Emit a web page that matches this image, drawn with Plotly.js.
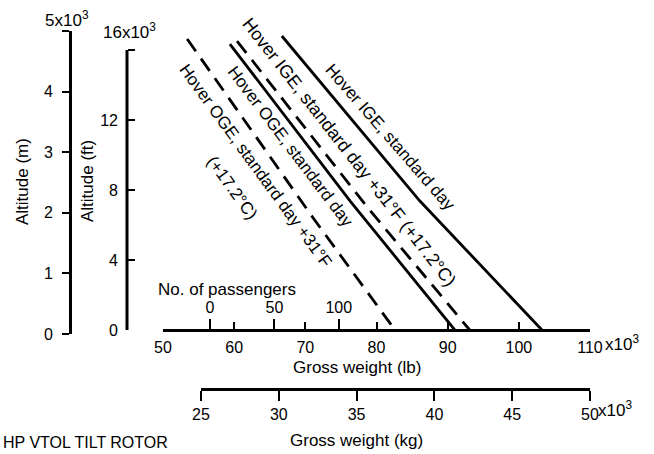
<!DOCTYPE html>
<html>
<head>
<meta charset="utf-8">
<script src="https://cdn.plot.ly/plotly-3.0.1.min.js"></script>
<style>html,body{margin:0;padding:0;background:#fff;}#chart{width:654px;height:454px;}</style>
</head>
<body>
<div id="chart"></div>
<script>
// ---- data (gross weight in 10^3 lb, altitude in 10^3 ft) ----
const lbOGE31 = [53.4, 71.1, 82.6];
const ftOGE31 = [16.63, 6.4, 0];
const lbOGE = [59.4, 76.3, 91.0];
const ftOGE = [16.34, 7.37, 0];
const lbIGE31 = [60.4, 78.8, 93.1];
const ftIGE31 = [16.51, 6.97, 0];
const lbIGE = [66.7, 86.1, 103.25];
const ftIGE = [16.8, 7.37, 0];

const lbTicks = [50, 60, 70, 80, 90, 100, 110];
const lbTickText = ['50', '60', '70', '80', '90', '100', '110'];
const kgTicks = [25, 30, 35, 40, 45, 50];
const kgTickText = ['25', '30', '35', '40', '45', '50'];
const paxTicks = [0, 50, 100];
const paxTickText = ['0', '50', '100'];
const ftTicks = [0, 4, 8, 12, 16];
const ftTickText = ['0', '4', '8', '12', ' '];
const mTicks = [0, 1, 2, 3, 4, 5];
const mTickText = ['0', '1', '2', '3', '4', ' '];

const lblIGE = 'Hover IGE, standard day';
const lblIGE31 = 'Hover IGE, standard day +31°F (+17.2°C)';
const lblOGE = 'Hover OGE, standard day';
const lblOGE31a = 'Hover OGE, standard day +31°F';
const lblOGE31b = '(+17.2°C)';

// ---- layout helpers ----
const W = 654, H = 454;
const px = v => v / W;
const py = v => 1 - v / H;
const FONT = 'Liberation Sans, Arial, Helvetica, sans-serif';
const ftPxPerK = 17.5;           // pixels per 1000 ft
const yBase = 330;               // pixel row of the zero altitude / lb axis
const yTop = 28;
const paxZeroLb = 56.6, lbPerPax = 0.181;

const black = 'black';
const solid = {color: black, width: 2.8};
const dashed = {color: black, width: 2.8, dash: '15px,9px'};

const traces = [
  {x: lbOGE31, y: ftOGE31, mode: 'lines', line: dashed, xaxis: 'x', yaxis: 'y', hoverinfo: 'skip'},
  {x: lbOGE, y: ftOGE, mode: 'lines', line: solid, xaxis: 'x', yaxis: 'y', hoverinfo: 'skip'},
  {x: lbIGE31, y: ftIGE31, mode: 'lines', line: dashed, xaxis: 'x', yaxis: 'y', hoverinfo: 'skip'},
  {x: lbIGE, y: ftIGE, mode: 'lines', line: solid, xaxis: 'x', yaxis: 'y', hoverinfo: 'skip'},
  {x: [], y: [], mode: 'lines', xaxis: 'x2', yaxis: 'y', hoverinfo: 'skip'},
  {x: [], y: [], mode: 'lines', xaxis: 'x3', yaxis: 'y', hoverinfo: 'skip'},
  {x: [], y: [], mode: 'lines', xaxis: 'x', yaxis: 'y2', hoverinfo: 'skip'}
];

const axBase = {showgrid: false, zeroline: false, fixedrange: true, tickcolor: black,
  linecolor: black, tickfont: {family: FONT, size: 16, color: black}, tickmode: 'array'};

function ann(text, x, y, opts) {
  return Object.assign({text: text, x: px(x), y: py(y), xref: 'paper', yref: 'paper',
    showarrow: false, xanchor: 'center', yanchor: 'middle',
    font: {family: FONT, size: 17, color: black}}, opts || {});
}
const f = s => ({family: FONT, size: s, color: black});

const layout = {
  width: W, height: H,
  margin: {l: 0, r: 0, t: 0, b: 0},
  paper_bgcolor: 'white', plot_bgcolor: 'rgba(0,0,0,0)',
  showlegend: false,
  font: {family: FONT, size: 16, color: black},
  xaxis: Object.assign({}, axBase, {
    domain: [px(163), px(590)], range: [50, 110], anchor: 'free', position: py(yBase),
    tickvals: lbTicks, ticktext: lbTickText, ticks: 'inside', ticklen: 7, tickwidth: 2,
    showline: true, linewidth: 3, ticklabelstandoff: 2
  }),
  xaxis2: Object.assign({}, axBase, {
    domain: [px(163), px(590)],
    range: [(50 - paxZeroLb) / lbPerPax, (110 - paxZeroLb) / lbPerPax],
    anchor: 'free', position: py(yBase), side: 'top',
    tickvals: paxTicks, ticktext: paxTickText, ticks: 'outside', ticklen: 11, tickwidth: 2,
    showline: false, ticklabelstandoff: 0
  }),
  xaxis3: Object.assign({}, axBase, {
    domain: [px(201), px(590)], range: [25, 50], anchor: 'free', position: py(389),
    tickvals: kgTicks, ticktext: kgTickText, ticks: 'outside', ticklen: 10, tickwidth: 2,
    showline: true, linewidth: 3
  }),
  yaxis: Object.assign({}, axBase, {
    domain: [py(yBase), py(yTop)], range: [0, (yBase - yTop) / ftPxPerK],
    anchor: 'free', position: px(127),
    tickvals: ftTicks, ticktext: ftTickText, ticks: 'inside', ticklen: 7, tickwidth: 2,
    showline: false, ticklabelstandoff: 9
  }),
  yaxis2: Object.assign({}, axBase, {
    domain: [py(334), py(31)], range: [0, 5], anchor: 'free', position: px(70),
    tickvals: mTicks, ticktext: mTickText, ticks: 'outside', ticklen: 7, tickwidth: 2,
    showline: true, linewidth: 3, ticklabelstandoff: 6
  }),
  shapes: [
    {type: 'line', xref: 'paper', yref: 'y', x0: px(127), x1: px(127), y0: 0, y1: 16,
     line: {color: black, width: 3}}
  ],
  annotations: [
    ann(lblIGE, 390, 138, {textangle: 49, font: f(17)}),
    ann(lblIGE31, 349, 152, {textangle: 52, font: f(18)}),
    ann(lblOGE, 290, 147, {textangle: 53, font: f(17)}),
    ann(lblOGE31a, 255, 166, {textangle: 54, font: f(17)}),
    ann(lblOGE31b, 232, 187, {textangle: 54, font: f(17)}),
    ann('Altitude (m)', 22, 181, {textangle: -90}),
    ann('Altitude (ft)', 87, 181, {textangle: -90}),
    ann('Gross weight (lb)', 357, 367),
    ann('Gross weight (kg)', 357, 440),
    ann('No. of passengers', 227, 289),
    ann('5x10<sup>3</sup>', 67, 19, {font: f(17)}),
    ann('16x10<sup>3</sup>', 129, 31, {font: f(17)}),
    ann('x10<sup>3</sup>', 603, 343, {xanchor: 'left', font: f(17)}),
    ann('x10<sup>3</sup>', 596, 409, {xanchor: 'left', font: f(17)}),
    ann('HP VTOL TILT ROTOR', 1, 432, {xanchor: 'left', yanchor: 'top', font: f(16)})
  ]
};

Plotly.newPlot('chart', traces, layout, {staticPlot: true, displayModeBar: false});
</script>
</body>
</html>
